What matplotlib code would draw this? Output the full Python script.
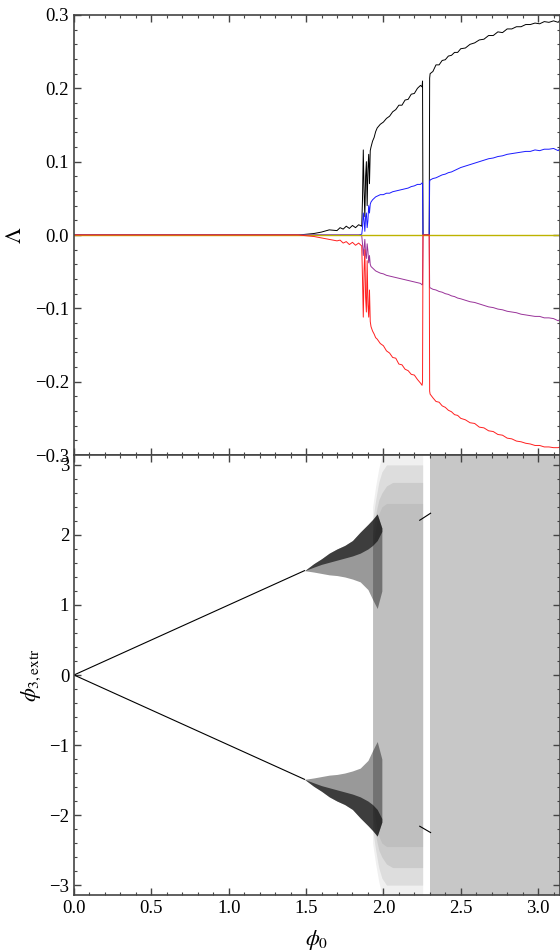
import numpy as np
import matplotlib
matplotlib.use("Agg")
import matplotlib.pyplot as plt
from matplotlib.ticker import MultipleLocator, FuncFormatter

plt.rcParams['font.family'] = ['Liberation Serif', 'DejaVu Serif']
plt.rcParams['mathtext.fontset'] = 'stix'

# ---- top panel: Lyapunov spectrum vs phi0 ----
lam_phi = [0.00, 1.45, 1.50, 1.55, 1.60, 1.65, 1.70, 1.72, 1.74, 1.76,
           1.78, 1.80, 1.82, 1.84, 1.86, 1.865, 1.87, 1.875, 1.88, 1.885,
           1.89, 1.895, 1.90, 1.905, 1.91, 1.915, 1.92, 1.93, 1.94, 1.95,
           1.96, 1.98, 2.00, 2.02, 2.04, 2.06, 2.08, 2.10, 2.12, 2.14,
           2.16, 2.18, 2.20, 2.22, 2.24, 2.25, 2.253, 2.256, 2.296, 2.299,
           2.302, 2.32, 2.34, 2.36, 2.38, 2.40, 2.42, 2.44, 2.46, 2.48,
           2.50, 2.53, 2.56, 2.59, 2.62, 2.65, 2.68, 2.71, 2.74, 2.77,
           2.80, 2.83, 2.86, 2.89, 2.92, 2.95, 2.98, 3.01, 3.04, 3.07,
           3.10, 3.13, 3.1416]

lam_1 = [0.0, 0.0, 0.001, 0.002, 0.004, 0.007, 0.006, 0.010, 0.008, 0.012,
         0.009, 0.013, 0.010, 0.014, 0.012, 0.050, 0.116, 0.060, 0.025, 0.080,
         0.100, 0.040, 0.090, 0.110, 0.070, 0.115, 0.120, 0.128, 0.133, 0.141,
         0.146, 0.151, 0.154, 0.159, 0.162, 0.168, 0.171, 0.177, 0.177, 0.184,
         0.185, 0.192, 0.193, 0.200, 0.204, 0.202, 0.210, 0.0, 0.0, 0.214,
         0.220, 0.223, 0.232, 0.232, 0.238, 0.239, 0.244, 0.245, 0.249, 0.249,
         0.254, 0.255, 0.260, 0.262, 0.266, 0.267, 0.272, 0.272, 0.277, 0.276,
         0.281, 0.281, 0.284, 0.284, 0.287, 0.287, 0.289, 0.288, 0.291, 0.290,
         0.292, 0.290, 0.293]

lam_2 = [0.0, 0.0, 0.0, 0.0, 0.0, 0.0, 0.0, 0.0, 0.0, 0.0,
         0.0, 0.0, 0.0, 0.0, 0.001, 0.010, 0.030, 0.020, 0.005, 0.025,
         0.030, 0.010, 0.020, 0.040, 0.030, 0.042, 0.045, 0.048, 0.050, 0.052,
         0.053, 0.055, 0.055, 0.057, 0.057, 0.059, 0.060, 0.061, 0.062, 0.063,
         0.064, 0.066, 0.067, 0.069, 0.069, 0.071, 0.070, 0.0, 0.0, 0.073,
         0.075, 0.077, 0.078, 0.080, 0.082, 0.083, 0.085, 0.086, 0.088, 0.090,
         0.092, 0.094, 0.096, 0.098, 0.100, 0.102, 0.104, 0.105, 0.107, 0.108,
         0.110, 0.111, 0.112, 0.113, 0.114, 0.114, 0.116, 0.115, 0.117, 0.117,
         0.118, 0.115, 0.118]

lam_3 = [0.0, 0.0, 0.0, 0.0, 0.0, 0.0, 0.0, 0.0, 0.0, 0.0,
         0.0, 0.0, 0.0, 0.0, -0.001, -0.012, -0.028, -0.018, -0.006, -0.027,
         -0.032, -0.012, -0.022, -0.038, -0.028, -0.040, -0.043, -0.045, -0.047, -0.049,
         -0.050, -0.052, -0.053, -0.055, -0.056, -0.057, -0.058, -0.059, -0.060, -0.061,
         -0.062, -0.063, -0.064, -0.065, -0.066, -0.068, -0.067, 0.0, 0.0, -0.071,
         -0.072, -0.074, -0.075, -0.077, -0.078, -0.080, -0.081, -0.083, -0.084, -0.086,
         -0.087, -0.089, -0.091, -0.092, -0.094, -0.096, -0.098, -0.099, -0.101, -0.102,
         -0.104, -0.105, -0.106, -0.108, -0.109, -0.110, -0.111, -0.111, -0.113, -0.113,
         -0.114, -0.117, -0.115]

lam_4 = [0.0, 0.0, -0.001, -0.002, -0.004, -0.006, -0.008, -0.007, -0.011, -0.009,
         -0.013, -0.010, -0.014, -0.011, -0.015, -0.060, -0.112, -0.050, -0.020, -0.085,
         -0.105, -0.035, -0.095, -0.112, -0.075, -0.118, -0.125, -0.131, -0.135, -0.140,
         -0.142, -0.148, -0.151, -0.158, -0.161, -0.167, -0.168, -0.176, -0.177, -0.183,
         -0.185, -0.190, -0.191, -0.197, -0.202, -0.205, -0.200, 0.0, 0.0, -0.213,
         -0.217, -0.222, -0.227, -0.228, -0.233, -0.235, -0.239, -0.241, -0.245, -0.246,
         -0.250, -0.252, -0.256, -0.257, -0.262, -0.263, -0.267, -0.268, -0.272, -0.273,
         -0.277, -0.278, -0.281, -0.282, -0.284, -0.285, -0.287, -0.287, -0.289, -0.289,
         -0.290, -0.290, -0.289]

lam_0 = [0.0] * len(lam_phi)

# ---- bottom panel: extrema of phi3 ----
line_x = [0.0, 1.49]
line_y = [0.0, 1.49]

# upper fan (lower fan is its mirror image): sparse outer part + dense core
fan_x = [1.49, 1.55, 1.60, 1.65, 1.70, 1.75, 1.80, 1.85, 1.90, 1.93, 1.96, 1.99]
fan_hi = [1.49, 1.59, 1.66, 1.74, 1.80, 1.85, 1.92, 2.04, 2.15, 2.22, 2.30, 2.10]
fan_lo = [1.49, 1.47, 1.45, 1.43, 1.42, 1.40, 1.37, 1.33, 1.22, 1.08, 0.95, 1.20]
core_lo = [1.49, 1.54, 1.58, 1.61, 1.64, 1.67, 1.70, 1.74, 1.80, 1.85, 1.92, 2.05]

# chaotic sea left of the window, nested density levels (upper half limit)
sea1_x = [1.93, 1.95, 1.97, 1.99, 2.02, 2.06, 2.254]
sea1_l1 = [2.40, 2.70, 2.95, 3.14, 3.14, 3.14, 3.14]
sea1_l2 = [2.20, 2.50, 2.75, 2.90, 3.00, 3.00, 3.00]
sea1_l3 = [2.00, 2.30, 2.50, 2.60, 2.70, 2.75, 2.75]
sea1_l4 = [1.80, 2.10, 2.30, 2.40, 2.45, 2.45, 2.45]
sea1_alpha = [0.06, 0.08, 0.08, 0.06]

# chaotic sea right of the window
sea2_x = [2.299, 3.1416]
sea2_top = [3.1416, 3.1416]

# periodic orbit inside the window
per_x = [2.235, 2.305]
per_hi = [2.21, 2.31]
per_lo = [-2.16, -2.25]


def minus_fmt(fmt):
    return FuncFormatter(lambda v, p: (fmt % v).replace('-', '\u2212'))


def style_axes(ax):
    for s in ax.spines.values():
        s.set_color('#444444')
        s.set_linewidth(1.2)
    ax.tick_params(which='both', direction='in', top=True, right=True,
                   colors='#444444', labelcolor='black', labelsize=13.5)
    ax.tick_params(which='major', length=5, width=1.0)
    ax.tick_params(which='minor', length=2.5, width=0.8)
    ax.xaxis.set_major_locator(MultipleLocator(0.5))
    ax.xaxis.set_minor_locator(MultipleLocator(0.1))


fig = plt.figure(figsize=(5.6, 9.52), dpi=100)
left = 74 / 560
ax1 = fig.add_axes([left, 1 - 455 / 952, 1 - left, 440 / 952])
ax2 = fig.add_axes([left, 1 - 895 / 952, 1 - left, 440 / 952])

# top
lw = 0.7
ax1.plot(lam_phi, lam_1, color='black', lw=lw)
ax1.plot(lam_phi, lam_2, color='#1a1aff', lw=lw)
ax1.plot(lam_phi, lam_3, color='#993399', lw=lw)
ax1.plot(lam_phi, lam_0, color='#bdb300', lw=1.0)
ax1.plot(lam_phi, lam_4, color='#ff2020', lw=lw)
ax1.set_xlim(0, np.pi)
ax1.set_ylim(-0.3, 0.3)
style_axes(ax1)
ax1.yaxis.set_major_locator(MultipleLocator(0.1))
ax1.yaxis.set_minor_locator(MultipleLocator(0.02))
ax1.yaxis.set_major_formatter(minus_fmt('%.1f'))
ax1.tick_params(labelbottom=False)
ax1.set_ylabel(r'$\Lambda$', fontsize=16)
ax1.yaxis.set_label_coords(-0.099, 0.5)

# bottom
for lev, a in zip([sea1_l1, sea1_l2, sea1_l3, sea1_l4], sea1_alpha):
    ax2.fill_between(sea1_x, [-v for v in lev], lev, color='black',
                     alpha=a, lw=0)
ax2.fill_between(sea2_x, [-v for v in sea2_top], sea2_top, color='black',
                 alpha=0.22, lw=0)

for sgn in (1, -1):
    ax2.plot(line_x, [sgn * v for v in line_y], color='black', lw=0.8)
    hi = [sgn * v for v in fan_hi]
    for lo, a in ((fan_lo, 0.4), (core_lo, 0.6)):
        ax2.fill_between(fan_x, [sgn * v for v in lo], hi,
                         color='black', alpha=a, lw=0)

ax2.plot(per_x, per_hi, color='black', lw=0.8)
ax2.plot(per_x, per_lo, color='black', lw=0.8)

ax2.set_xlim(0, np.pi)
ax2.set_ylim(-np.pi, np.pi)
style_axes(ax2)
ax2.yaxis.set_major_locator(MultipleLocator(1))
ax2.yaxis.set_minor_locator(MultipleLocator(0.2))
ax2.yaxis.set_major_formatter(minus_fmt('%d'))
ax2.xaxis.set_major_formatter(minus_fmt('%.1f'))
ax2.set_ylabel(r'$\phi_{3,\mathrm{extr}}$', fontsize=16)
ax2.yaxis.set_label_coords(-0.064, 0.5)
ax2.set_xlabel(r'$\phi_0$', fontsize=16, labelpad=8)

fig.savefig('out.png', dpi=100)
